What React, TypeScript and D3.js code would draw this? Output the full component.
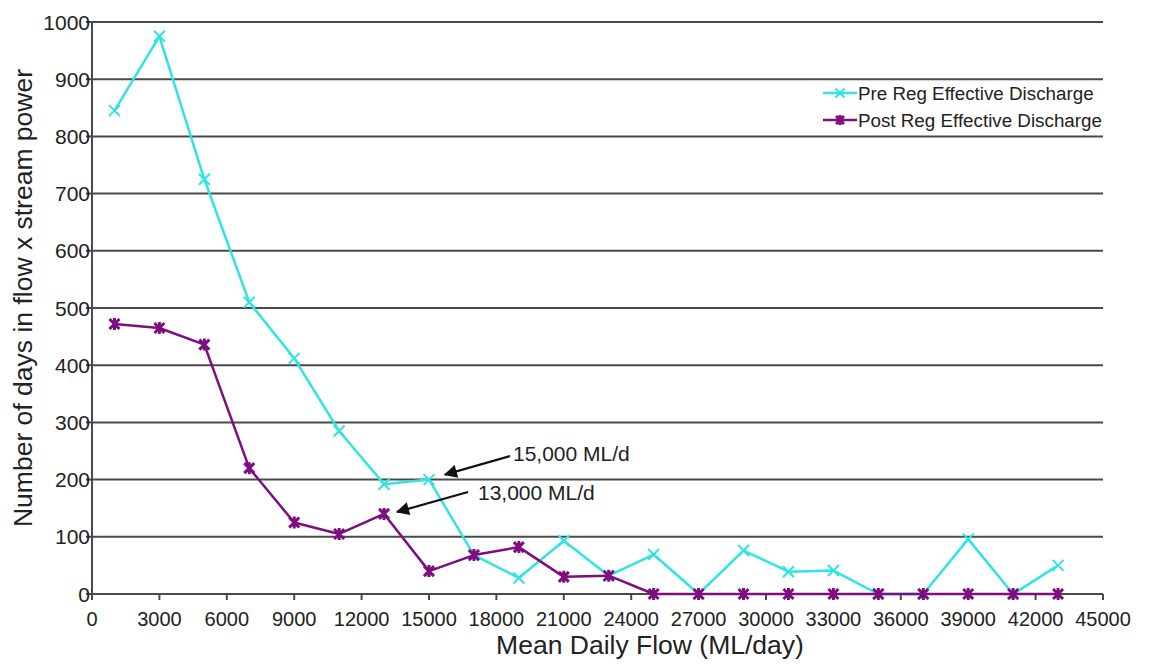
import React, { useRef, useEffect } from "react";
import { select, scaleLinear, line, range } from "d3";

// mean daily flow bins (ML/day)
const flows = [1000, 3000, 5000, 7000, 9000, 11000, 13000, 15000, 17000, 19000, 21000,
  23000, 25000, 27000, 29000, 31000, 33000, 35000, 37000, 39000, 41000, 43000];
const preReg = [845, 975, 725, 510, 412, 285, 192, 200, 68, 28, 93,
  32, 69, 0, 76, 39, 41, 0, 0, 96, 0, 50];
const postReg = [472, 465, 436, 220, 125, 105, 140, 40, 68, 82, 30,
  32, 0, 0, 0, 0, 0, 0, 0, 0, 0, 0];
const xTicks = range(0, 45001, 3000);
const yTicks = range(0, 1001, 100);
const seriesNames = ["Pre Reg Effective Discharge", "Post Reg Effective Discharge"];
const notes = [
  { label: "15,000 ML/d", flow: 15000, value: 200 },
  { label: "13,000 ML/d", flow: 13000, value: 140 },
];

const W = 1155;
const H = 664;
const m = { left: 92, right: 52, top: 22, bottom: 70 };
const FONT = "'Liberation Sans', Arial, sans-serif";
const CYAN = "#30e4e4";
const PURPLE = "#7e0d80";

export default function App() {
  const svgRef = useRef<SVGSVGElement>(null);

  useEffect(() => {
    const svg = select(svgRef.current);
    svg.selectAll("*").remove();

    const x = scaleLinear().domain([0, 45000]).range([m.left, W - m.right]);
    const y = scaleLinear().domain([0, 1000]).range([594, m.top]);

    const defs = svg.append("defs");
    defs.append("marker")
      .attr("id", "head")
      .attr("viewBox", "0 0 10 10")
      .attr("refX", 9).attr("refY", 5)
      .attr("markerWidth", 7.5).attr("markerHeight", 6)
      .attr("markerUnits", "strokeWidth")
      .attr("orient", "auto")
      .append("path").attr("d", "M0,0 L10,5 L0,10 Z").attr("fill", "#111");

    // gridlines
    svg.append("g").selectAll("line").data(yTicks.filter(d => d > 0)).join("line")
      .attr("x1", x(0)).attr("x2", x(45000))
      .attr("y1", d => y(d)).attr("y2", d => y(d))
      .attr("stroke", "#4a4a4a").attr("stroke-width", 2);

    // axes
    const ax = svg.append("g").attr("stroke", "#4a4a4a").attr("stroke-width", 2);
    ax.append("line").attr("x1", x(0)).attr("x2", x(45000)).attr("y1", y(0)).attr("y2", y(0));
    ax.append("line").attr("x1", x(0)).attr("x2", x(0)).attr("y1", y(0)).attr("y2", y(1000));
    ax.selectAll(".xt").data(xTicks).join("line").attr("class", "xt")
      .attr("x1", d => x(d)).attr("x2", d => x(d)).attr("y1", y(0)).attr("y2", y(0) + 6);
    ax.selectAll(".yt").data(yTicks).join("line").attr("class", "yt")
      .attr("x1", x(0) - 6).attr("x2", x(0)).attr("y1", d => y(d)).attr("y2", d => y(d));

    svg.append("g").selectAll("text").data(xTicks).join("text")
      .attr("x", d => x(d)).attr("y", y(0) + 32)
      .attr("text-anchor", "middle")
      .attr("font-family", FONT).attr("font-size", 20)
      .attr("fill", "#222")
      .text(d => String(d));

    svg.append("g").selectAll("text").data(yTicks).join("text")
      .attr("x", x(0) - 2).attr("y", d => y(d) + 7.5)
      .attr("text-anchor", "end")
      .attr("font-family", FONT).attr("font-size", 21)
      .attr("fill", "#222")
      .text(d => String(d));

    svg.append("text")
      .attr("x", 650).attr("y", 654)
      .attr("text-anchor", "middle")
      .attr("font-family", FONT).attr("font-size", 26.5)
      .attr("fill", "#222")
      .text("Mean Daily Flow (ML/day)");

    svg.append("text")
      .attr("transform", `translate(32,298) rotate(-90)`)
      .attr("text-anchor", "middle")
      .attr("font-family", FONT).attr("font-size", 26.5)
      .attr("fill", "#222")
      .text("Number of days in flow x stream power");

    const path = line<number>().x((_, i) => x(flows[i])).y(d => y(d));
    const crossPath = (s: number) => `M${-s},${-s}L${s},${s}M${-s},${s}L${s},${-s}`;
    const starPath = (s: number) => `${crossPath(s)}M0,${-s - 1}L0,${s + 1}`;

    const series = [
      { values: preReg, color: CYAN, mark: crossPath(5.5), mw: 2 },
      { values: postReg, color: PURPLE, mark: starPath(5), mw: 3 },
    ];

    series.forEach(s => {
      svg.append("path").datum(s.values)
        .attr("d", path).attr("fill", "none")
        .attr("stroke", s.color).attr("stroke-width", 2.5).attr("stroke-linejoin", "round");
    });
    series.forEach(s => {
      svg.append("g").selectAll("path").data(s.values).join("path")
        .attr("transform", (d, i) => `translate(${x(flows[i])},${y(d)})`)
        .attr("d", s.mark).attr("stroke", s.color).attr("stroke-width", s.mw).attr("fill", "none");
    });

    // legend
    const lg = svg.append("g").attr("transform", "translate(823,93)");
    series.forEach((s, i) => {
      const row = lg.append("g").attr("transform", `translate(0,${i * 27})`);
      row.append("line").attr("x1", 0).attr("x2", 34).attr("stroke", s.color).attr("stroke-width", 2.5);
      row.append("path").attr("transform", "translate(17,0)").attr("d", i === 0 ? crossPath(4.5) : starPath(4))
        .attr("stroke", s.color).attr("stroke-width", s.mw).attr("fill", "none");
      row.append("text").attr("x", 35).attr("y", 6.5)
        .attr("font-family", FONT).attr("font-size", 18.8).attr("fill", "#222")
        .text(seriesNames[i]);
    });

    // annotations
    const offsets = [
      { tx: 513, ty: 461, sx: 510, sy: 456, dx: 16, dy: -5 },
      { tx: 478, ty: 500, sx: 468, sy: 492, dx: 13, dy: -2 },
    ];
    notes.forEach((n, i) => {
      const o = offsets[i];
      svg.append("line")
        .attr("x1", o.sx).attr("y1", o.sy)
        .attr("x2", x(n.flow) + o.dx).attr("y2", y(n.value) + o.dy)
        .attr("stroke", "#111").attr("stroke-width", 2.2)
        .attr("marker-end", "url(#head)");
      svg.append("text").attr("x", o.tx).attr("y", o.ty)
        .attr("font-family", FONT).attr("font-size", 21).attr("fill", "#222")
        .text(n.label);
    });
  }, []);

  return (
    <svg ref={svgRef} width={W} height={H}
      style={{ position: "absolute", left: 0, top: 0, background: "#fff" }} />
  );
}
